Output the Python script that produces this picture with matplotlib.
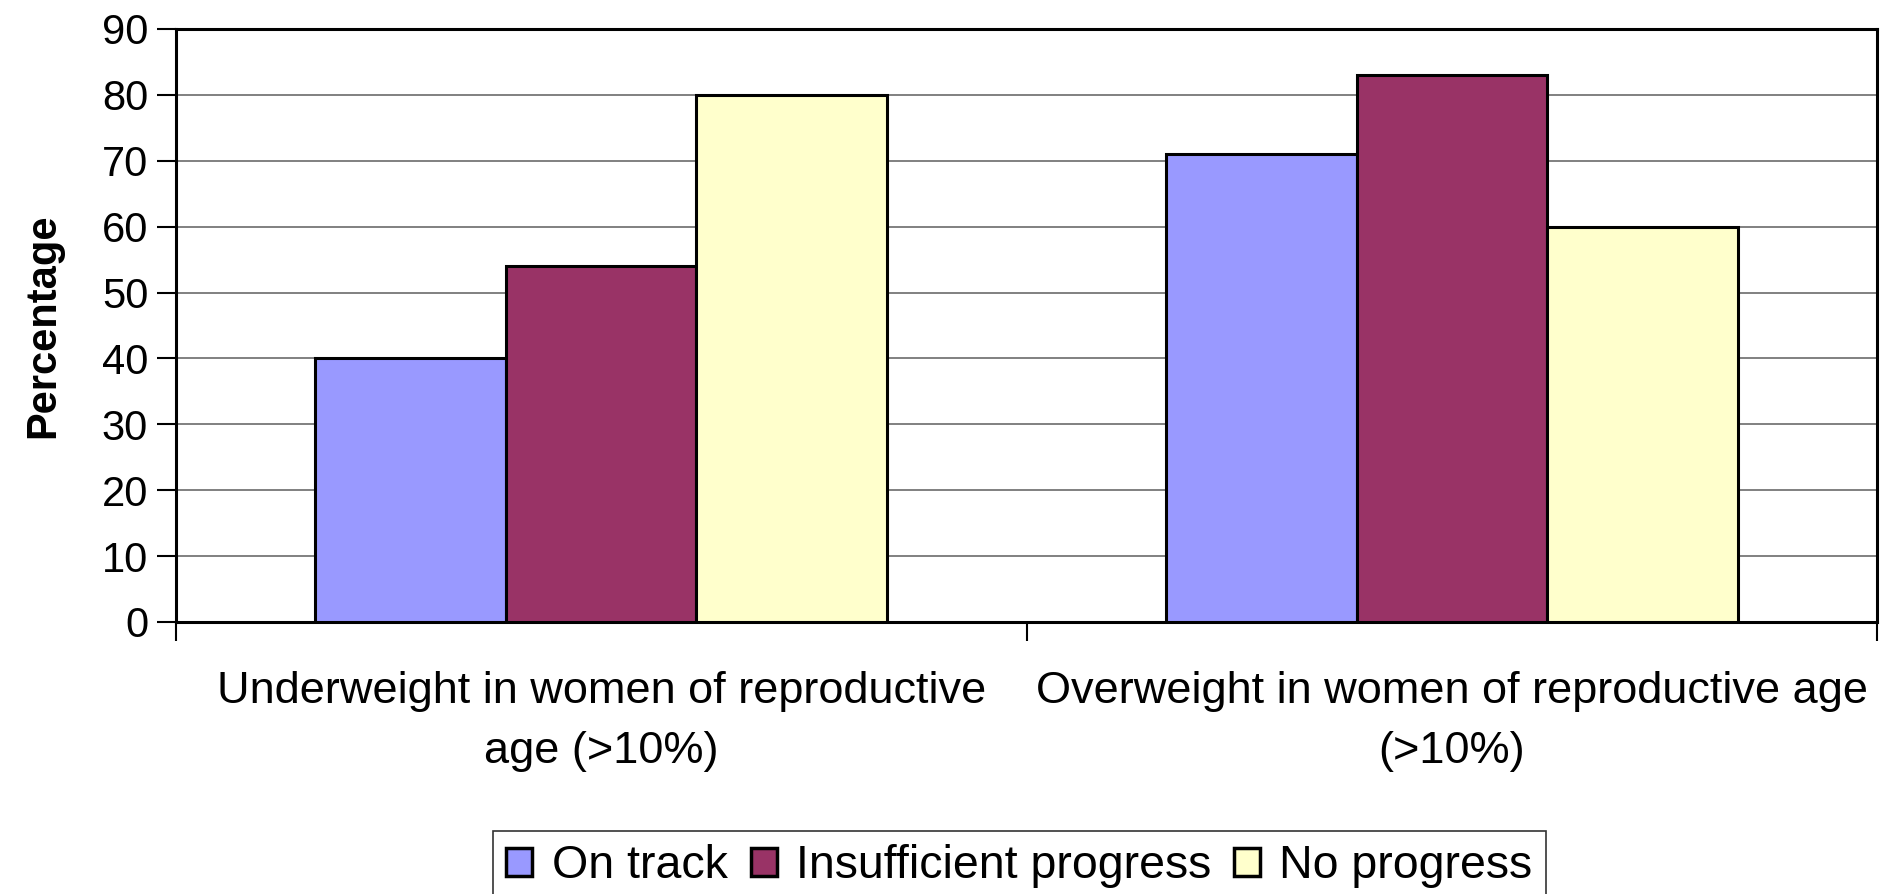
import matplotlib.pyplot as plt
import numpy as np

categories = ['Underweight in women of reproductive\nage (>10%)',
              'Overweight in women of reproductive age\n(>10%)']
series = ['On track', 'Insufficient progress', 'No progress']
on_track = [40, 71]
insufficient = [54, 83]
no_progress = [80, 60]
colors = ['#9999ff', '#993366', '#ffffcc']

plt.rcParams['font.family'] = ['Liberation Sans', 'DejaVu Sans']

fig = plt.figure(figsize=(18.88, 8.94), dpi=100)
ax = fig.add_axes([0.0932, 0.3043, 0.9942 - 0.0932, 0.9676 - 0.3043])

x = np.arange(len(categories))
barWidth = 0.224
for i, (vals, lab) in enumerate(zip([on_track, insufficient, no_progress], series)):
    ax.bar(x + (i - 1) * barWidth, vals, width=barWidth, color=colors[i],
           edgecolor='black', linewidth=2.2, label=lab, zorder=3)

ax.set_xlim(-0.5, 1.5)
ax.set_ylim(0, 90)
ax.set_yticks(np.arange(0, 91, 10))
ax.yaxis.grid(True, color='#808080', linewidth=1.4)
ax.set_axisbelow(True)

# boundary ticks (major), category labels on minor ticks
ax.set_xticks([-0.5, 0.5, 1.5])
ax.set_xticklabels([])
ax.set_xticks(x, minor=True)
ax.set_xticklabels(categories, minor=True, fontsize=32.5, linespacing=1.6)
ax.tick_params(axis='x', which='minor', length=0, pad=35)
ax.tick_params(axis='x', which='major', length=14, width=1.5, direction='out')
ax.tick_params(axis='y', length=14, width=1.5, direction='out', labelsize=30, pad=6)

for s in ax.spines.values():
    s.set_color('black')
    s.set_linewidth(2.2)

ax.set_ylabel('Percentage', fontsize=30, fontweight='bold', labelpad=28)

leg = fig.legend(loc='upper center', bbox_to_anchor=(0.540, 0.0705), ncol=3,
                 fontsize=33.5, frameon=True, fancybox=False, edgecolor='black',
                 handlelength=0.56, handleheight=0.56, handletextpad=0.41,
                 columnspacing=0.5, borderpad=0.29, borderaxespad=0)
leg.get_frame().set_linewidth(1.2)
for h in leg.legend_handles:
    h.set_linewidth(2.5)

fig.savefig('out.png', dpi=100)
